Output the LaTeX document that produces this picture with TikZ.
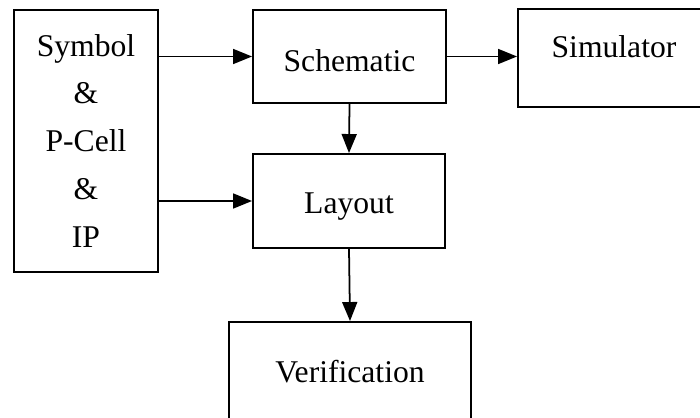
\documentclass[tikz,border=0pt]{standalone}
\usepackage{fontspec}
\setmainfont{Liberation Serif}
\usepackage{tikz}
\usetikzlibrary{arrows.meta}

\begin{document}
\begin{tikzpicture}
    [font=\fontsize{18}{27.3}\selectfont,
    box/.style={shape=rectangle,draw=black,line width=1.1pt,inner sep=0pt,align=center},
    arc/.style={-{Triangle[length=0.38cm,width=0.3cm]},line width=1pt}]

    \useasboundingbox (0,0) rectangle (14,8.34);

    \node (src) [box,minimum width=2.88cm,minimum height=5.24cm] at (1.72,5.52)
        {Symbol\\\&\\P-Cell\\\&\\IP};
    \node (sch) [box,minimum width=3.86cm,minimum height=1.86cm,text height=0.59cm] at (6.99,7.21) {Schematic};
    \node (sim) [box,minimum width=3.84cm,minimum height=1.96cm,text depth=0.46cm] at (12.28,7.18) {Simulator};
    \node (lay) [box,minimum width=3.84cm,minimum height=1.88cm,text height=0.63cm] at (6.98,4.32) {Layout};
    \node (ver) [box,minimum width=4.84cm,minimum height=2.0cm] at (7.0,0.9) {Verification};

    \draw [arc] (src.east |- sch.west) -- (sch.west);
    \draw [arc] (src.east |- lay.west) -- (lay.west);
    \draw [arc] (sch.east) -- (sch.east -| sim.west);
    \draw [arc] (sch.south) -- (lay.north);
    \draw [arc] (lay.south) -- (ver.north);

\end{tikzpicture}
\end{document}
